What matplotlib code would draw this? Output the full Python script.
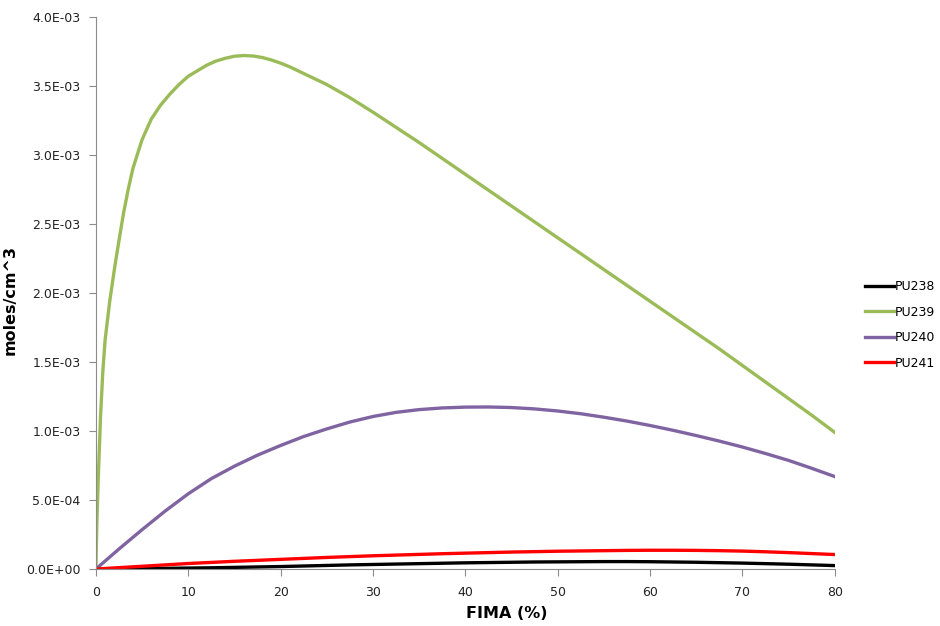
import numpy as np
import matplotlib.pyplot as plt
from matplotlib.ticker import FuncFormatter

# PU239 (moles/cm^3, x1e-3) vs FIMA (%)
x239 = [0, 0.05, 0.1, 0.25, 0.5, 0.75, 1, 1.5, 2, 2.5, 3, 3.5, 4, 5, 6, 7, 8, 9, 10, 11, 12,
        13, 14, 15, 16, 17, 18, 19, 20, 21, 22.5, 25, 27.5, 30, 32.5, 35, 37.5, 40, 42.5, 45,
        47.5, 50, 52.5, 55, 57.5, 60, 62.5, 65, 67.5, 70, 72.5, 75, 77.5, 80]
y239 = [0, 0.17, 0.32, 0.64, 1.10, 1.43, 1.66, 1.94, 2.17, 2.38, 2.58, 2.75, 2.90, 3.11, 3.26,
        3.36, 3.44, 3.51, 3.57, 3.61, 3.65, 3.68, 3.70, 3.715, 3.72, 3.717, 3.706, 3.688, 3.665,
        3.638, 3.59, 3.51, 3.415, 3.31, 3.20, 3.09, 2.975, 2.86, 2.745, 2.63, 2.515, 2.40,
        2.285, 2.17, 2.055, 1.94, 1.825, 1.71, 1.595, 1.475, 1.355, 1.235, 1.115, 0.99]

# other isotopes share one FIMA grid
fima = [0, 2.5, 5, 7.5, 10, 12.5, 15, 17.5, 20, 22.5, 25, 27.5, 30, 32.5, 35, 37.5, 40, 42.5,
        45, 47.5, 50, 52.5, 55, 57.5, 60, 62.5, 65, 67.5, 70, 72.5, 75, 77.5, 80]
y240 = [0, 0.145, 0.285, 0.42, 0.545, 0.655, 0.745, 0.825, 0.895, 0.96, 1.015, 1.065, 1.105,
        1.135, 1.155, 1.167, 1.173, 1.174, 1.17, 1.16, 1.145, 1.125, 1.10, 1.072, 1.04, 1.005,
        0.967, 0.927, 0.884, 0.837, 0.787, 0.73, 0.67]
y241 = [0, 0.010, 0.020, 0.030, 0.040, 0.048, 0.056, 0.063, 0.070, 0.077, 0.084, 0.090, 0.096,
        0.101, 0.106, 0.111, 0.115, 0.119, 0.123, 0.126, 0.129, 0.131, 0.133, 0.135, 0.136,
        0.136, 0.135, 0.133, 0.130, 0.125, 0.119, 0.112, 0.105]
y238 = [0, 0.001, 0.003, 0.005, 0.007, 0.009, 0.012, 0.015, 0.018, 0.022, 0.026, 0.030, 0.033,
        0.036, 0.039, 0.042, 0.045, 0.047, 0.049, 0.051, 0.052, 0.053, 0.054, 0.054, 0.053,
        0.051, 0.049, 0.046, 0.043, 0.039, 0.035, 0.030, 0.025]

labels = ['PU238', 'PU239', 'PU240', 'PU241']
colors = ['#000000', '#9BBB59', '#8064A2', '#FF0000']

fig = plt.figure(figsize=(9.4, 6.26), dpi=100)
ax = fig.add_axes([0.102, 0.091, 0.786, 0.882])

lw = 2.4
ax.plot(fima, np.array(y238) * 1e-3, color=colors[0], lw=lw, label=labels[0])
ax.plot(x239, np.array(y239) * 1e-3, color=colors[1], lw=lw, label=labels[1])
ax.plot(fima, np.array(y240) * 1e-3, color=colors[2], lw=lw, label=labels[2])
ax.plot(fima, np.array(y241) * 1e-3, color=colors[3], lw=lw, label=labels[3])

ax.set_xlim(0, 80)
ax.set_ylim(0, 4e-3)
ax.set_xticks(np.arange(0, 81, 10))
ax.set_yticks(np.arange(0, 4.01e-3, 0.5e-3))
ax.yaxis.set_major_formatter(FuncFormatter(lambda v, p: f"{v:.1E}"))

for s in ['top', 'right']:
    ax.spines[s].set_visible(False)
for s in ['left', 'bottom']:
    ax.spines[s].set_color('#8c8c8c')
ax.tick_params(direction='out', length=5, color='#8c8c8c', labelsize=9, labelcolor='#222222')
ax.tick_params(axis='x', pad=7)
ax.tick_params(axis='y', pad=6)

ax.set_xlabel('FIMA (%)', fontsize=11.5, fontweight='bold')
ax.set_ylabel('moles/cm^3', fontsize=11.5, fontweight='bold')
ax.xaxis.set_label_coords(0.556, -0.067)
ax.yaxis.set_label_coords(-0.106, 0.487)

fig.legend(loc='center left', bbox_to_anchor=(0.908, 0.481), frameon=False, fontsize=9,
           handlelength=2.3, handletextpad=0.1, labelspacing=1.0)

fig.savefig('out.png', dpi=100)
